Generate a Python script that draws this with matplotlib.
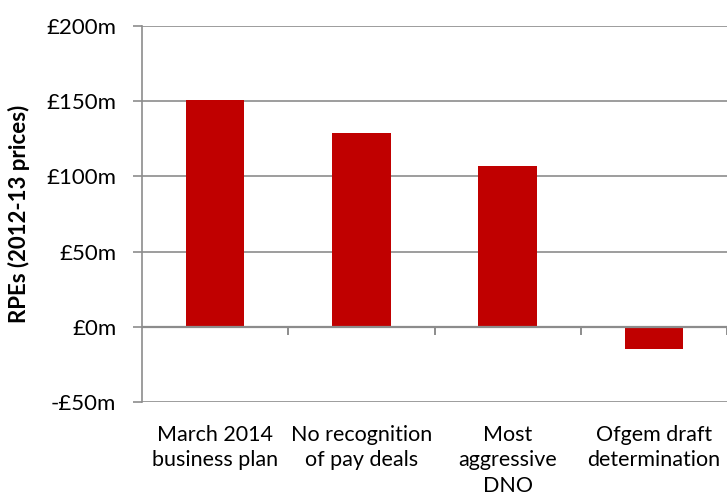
import matplotlib
matplotlib.use("Agg")
import matplotlib.pyplot as plt
import matplotlib.transforms as mtransforms

categories = ["March 2014\nbusiness plan", "No recognition\nof pay deals",
              "Most\naggressive\nDNO", "Ofgem draft\ndetermination"]
values = [151, 129, 107, -14.5]
yticks = [-50, 0, 50, 100, 150, 200]
ytick_labels = ["-£50m", "£0m", "£50m", "£100m", "£150m", "£200m"]
ylabel = "RPEs (2012-13 prices)"

plt.rcParams['font.family'] = ['Lato', 'DejaVu Sans']
grid_col = "#8c8c8c"

fig = plt.figure(figsize=(7.27, 4.99), dpi=100)
ax = fig.add_axes([142/727, 97/499, 585/727, 376/499])

x = list(range(len(categories)))
ax.bar(x, values, width=0.4, color="#C00000", zorder=3)

ax.set_xlim(-0.5, len(categories) - 0.5)
ax.set_ylim(-50, 200)
ax.set_yticks(yticks)
ax.set_yticklabels(ytick_labels, fontsize=16)
ax.tick_params(axis='y', length=6.5, color=grid_col, width=1.2, pad=12)
for y in yticks:
    ax.axhline(y, color=grid_col, lw=1.2, zorder=1)

for s in ["top", "right", "bottom"]:
    ax.spines[s].set_visible(False)
ax.spines["left"].set_color(grid_col)
ax.spines["left"].set_linewidth(1.2)

# x-axis at zero with category boundary ticks
ax.set_xticks([])
ax.axhline(0, color=grid_col, lw=1.6, zorder=4)
for b in [0.5, 1.5, 2.5, 3.5]:
    ax.plot([b, b], [0, -4.5], color=grid_col, lw=1.4, zorder=4, clip_on=False)

trans = mtransforms.blended_transform_factory(ax.transData, ax.transAxes)
for xi, lab in zip(x, categories):
    ax.text(xi, -0.06, lab, transform=trans, ha="center", va="top",
            fontsize=15.5, linespacing=1.36)

ax.set_ylabel(ylabel, fontsize=16, fontweight="bold")
ax.yaxis.set_label_coords(-0.192, 0.5)

fig.savefig("out.png", dpi=100)
